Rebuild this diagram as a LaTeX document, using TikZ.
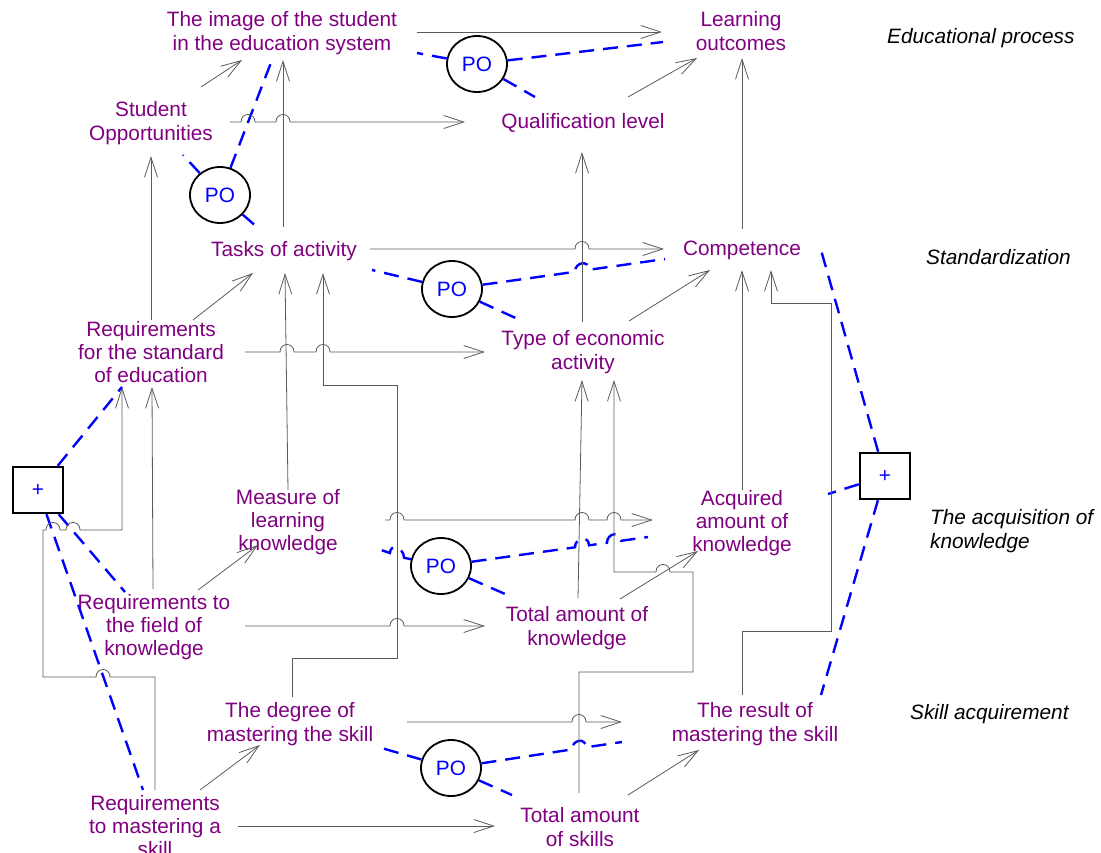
\documentclass[tikz,border=0pt]{standalone}
\usepackage{fontspec}
\setmainfont{Liberation Sans}
\usetikzlibrary{arrows.meta,shapes.geometric,calc}
\definecolor{txt}{RGB}{128,0,128}
\definecolor{relblue}{RGB}{0,0,255}
\definecolor{wire}{RGB}{90,90,90}
\newcommand\dfont{\fontsize{20.8}{23.3}\selectfont}
% small semicircular jump over a crossing line
\newcommand\hop[4]{-- (#1,#2) .. controls (#1,#2-10) and (#3,#4-10) .. (#3,#4)}
\begin{document}
\begin{tikzpicture}[x=1pt,y=-1pt,
  lbl/.style={text=txt, align=center, inner sep=0pt, font=\dfont},
  sect/.style={font=\dfont\itshape, anchor=west, align=left, inner sep=0pt},
  po/.style={ellipse, draw=black, line width=1.8pt, minimum width=60pt, minimum height=56pt, inner sep=0pt, text=relblue, font=\dfont},
  plus/.style={rectangle, draw=black, line width=2.4pt, minimum width=50pt, minimum height=46pt, inner sep=0pt, text=relblue, font=\dfont},
  arr/.style={draw=wire, line width=0.8pt, -{Straight Barb[length=20pt,width=13pt]}},
  rel/.style={draw=relblue, line width=2.4pt, dash pattern=on 15pt off 9pt},
]
\useasboundingbox (0,0) rectangle (1101,852);

% concepts
\node[lbl] (img)  at (282,33)  {The image of the student\\in the education system};
\node[lbl] (lo)   at (741,31)  {Learning\\outcomes};
\node[lbl] (so)   at (151,123) {Student\\Opportunities};
\node[lbl] (ql)   at (583,123) {Qualification level};
\node[lbl] (tasks) at (284,251) {Tasks of activity};
\node[lbl] (comp) at (742,250) {Competence};
\node[lbl] (rstd) at (151,352) {Requirements\\for the standard\\of education};
\node[lbl] (tea)  at (583,352) {Type of economic\\activity};
\node[lbl] (mlk)  at (288,522) {Measure of\\learning\\knowledge};
\node[lbl] (aak)  at (742,523) {Acquired\\amount of\\knowledge};
\node[lbl] (rfk)  at (154,627) {Requirements to\\the field of\\knowledge};
\node[lbl] (tak)  at (577,628) {Total amount of\\knowledge};
\node[lbl] (dms)  at (290,724) {The degree of\\mastering the skill};
\node[lbl] (rms)  at (755,724) {The result of\\mastering the skill};
\node[lbl] (rmsk) at (155,826) {Requirements\\to mastering a\\skill};
\node[lbl] (tas)  at (580,827) {Total amount\\of skills};

% relation markers
\node[po] (po1) at (477,64)  {PO};
\node[po] (po2) at (220,195) {PO};
\node[po] (po3) at (452,289) {PO};
\node[po] (po4) at (441,566) {PO};
\node[po] (po5) at (451,768) {PO};
\node[plus] (boxl) at (38,490)  {+};
\node[plus] (boxr) at (885,476) {+};

% level captions
\node[sect] (s1) at (887,38)  {Educational process};
\node[sect] (s2) at (926,257) {Standardization};
\node[sect] (s3) at (930,531) {The acquisition of\\knowledge};
\node[sect] (s4) at (910,714) {Skill acquirement};

% dashed relations
\draw[rel] (po1) -- ($(img)+(135,20)$);
\draw[rel] (po1) -- ($(lo)+(-78,11)$);
\draw[rel] (po1) -- ($(ql)+(-48,-26)$);
\draw[rel] (po2) -- ($(img)+(-10,27)$);
\draw[rel] (po2) -- ($(so)+(32,32)$);
\draw[rel] (po2) -- ($(tasks)+(-27,-24)$);
\draw[rel] (po3) -- ($(tasks)+(88,19)$);
\draw[rel] (po3) -- (575,271.8) \hop{575}{271.8}{589}{269.8} -- ($(comp)+(-77,9)$);
\draw[rel] (po3) -- ($(tea)+(-63,-32)$);
\draw[rel] (po4) -- (404,557.7) \hop{404}{557.7}{390}{553} -- ($(mlk)+(87,26)$);
\draw[rel] (po4) -- (575,547.3) \hop{575}{547.3}{589}{545.3} -- (607,542.8) \hop{607}{542.8}{621}{540.8} -- ($(aak)+(-94,14)$);
\draw[rel] (po4) -- ($(tak)+(-65,-31)$);
\draw[rel] (po5) -- ($(dms)+(88,23)$);
\draw[rel] (po5) -- (572,749.4) \hop{572}{749.4}{586}{747.3} -- ($(rms)+(-133,18)$);
\draw[rel] (po5) -- ($(tas)+(-68,-32)$);
\draw[rel] (boxl) -- ($(rstd)+(-29,35)$);
\draw[rel] (boxl) -- ($(rfk)+(-29,-35)$);
\draw[rel] (boxl) -- ($(rmsk)+(-12,-36)$);
\draw[rel] (boxr) -- ($(comp)+(79,0)$);
\draw[rel] (boxr) -- ($(aak)+(86,-29)$);
\draw[rel] (boxr) -- ($(rms)+(66,-29)$);

% influence arrows
\draw[arr] ($(img)+(135,-1)$) -- ($(lo)+(-79,1)$);
\draw[arr] ($(so)+(50,-36)$) -- ($(img)+(-40,27)$);
\draw[arr] ($(tasks)+(-1,-24)$) -- ($(img)+(1,27)$);
\draw[arr] ($(so)+(79,-1)$) \hop{241}{122}{255}{122} \hop{276}{122}{290}{122} -- ($(ql)+(-118,-1)$);
\draw[arr] ($(ql)+(45,-26)$) -- ($(lo)+(-44,27)$);
\draw[arr] ($(comp)+(0,-21)$) -- ($(lo)+(1,27)$);
\draw[arr] ($(tea)+(-1,-30)$) -- ($(ql)+(-1,29)$);
\draw[arr] ($(tasks)+(86,-2)$) \hop{575}{249}{589}{249} -- ($(comp)+(-78,-1)$);
\draw[arr] ($(tea)+(46,-31)$) -- ($(comp)+(-32,20)$);
\draw[arr] ($(rstd)+(0,-32)$) -- ($(so)+(0,33)$);
\draw[arr] ($(rstd)+(42,-32)$) -- ($(tasks)+(-31,22)$);
\draw[arr] ($(rstd)+(94,0)$) \hop{280}{352}{294}{352} \hop{316}{352}{330}{352} -- ($(tea)+(-98,0)$);
\draw[arr] ($(mlk)+(0,-32)$) -- ($(tasks)+(1,22)$);
\draw[arr] ($(dms)+(2,-27)$) -- (292,658) -- (397,658) -- (397,385) -- (323,385) -- ($(tasks)+(39,22)$);
\draw[arr] ($(mlk)+(97,-2)$) \hop{390}{520}{404}{520} \hop{575}{520}{589}{520} \hop{607}{520}{621}{520} -- ($(aak)+(-89,-3)$);
\draw[arr] ($(tak)+(1,-30)$) -- ($(tea)+(-1,28)$);
\draw[arr] ($(tas)+(-1,-34)$) -- (579,672) -- (693,672) -- (693,572) \hop{670}{572}{656}{572} -- (614,572) -- ($(tea)+(31,28)$);
\draw[arr] ($(tak)+(43,-29)$) -- ($(aak)+(-44,28)$);
\draw[arr] ($(aak)+(0,-33)$) -- ($(comp)+(0,20)$);
\draw[arr] ($(rms)+(-13,-29)$) -- (742,631) -- (831,631) -- (831,303) -- (771,303) -- ($(comp)+(29,20)$);
\draw[arr] ($(rfk)+(-1,-38)$) -- ($(rstd)+(1,35)$);
\draw[arr] ($(rfk)+(44,-37)$) -- ($(mlk)+(-30,23)$);
\draw[arr] ($(rfk)+(91,-1)$) \hop{390}{626}{404}{626} -- ($(tak)+(-92,-2)$);
\draw[arr] ($(rmsk)+(0,-36)$) -- (155,677) \hop{110}{677}{96}{677} -- (43,677) -- (43,530) \hop{46}{530}{60}{530} \hop{66}{530}{80}{530} -- (122,530) -- ($(rstd)+(-29,35)$);
\draw[arr] ($(rmsk)+(45,-36)$) -- ($(dms)+(-30,21)$);
\draw[arr] ($(rmsk)+(83,0)$) -- ($(tas)+(-85,-1)$);
\draw[arr] ($(dms)+(117,-2)$) \hop{572}{722}{586}{722} -- ($(rms)+(-133,-2)$);
\draw[arr] ($(tas)+(48,-32)$) -- ($(rms)+(-56,26)$);
\end{tikzpicture}
\end{document}
